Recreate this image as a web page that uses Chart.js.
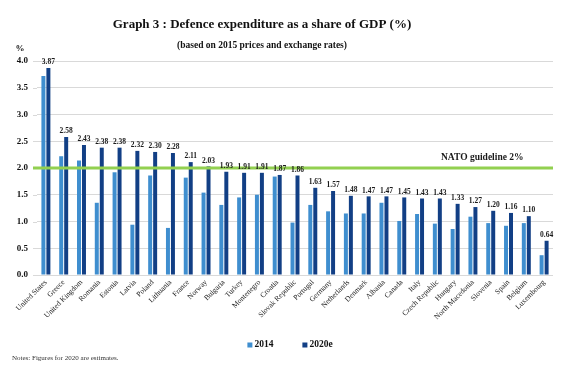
<!DOCTYPE html>
<html><head><meta charset="utf-8">
<script src="https://cdn.jsdelivr.net/npm/chart.js@4/dist/chart.umd.min.js"></script>
<style>html,body{margin:0;padding:0;background:#fff}#wrap{width:567px;height:368px;position:relative}canvas{display:block}</style>
</head><body><div id="wrap"><canvas id="c" width="567" height="368"></canvas></div>
<script>
const categories = ["United States","Greece","United Kingdom","Romania","Estonia","Latvia","Poland","Lithuania","France","Norway","Bulgaria","Turkey","Montenegro","Croatia","Slovak Republic","Portugal","Germany","Netherlands","Denmark","Albania","Canada","Italy","Czech Republic","Hungary","North Macedonia","Slovenia","Spain","Belgium","Luxembourg"];
const values2014 = [3.72,2.22,2.14,1.35,1.92,0.94,1.86,0.88,1.82,1.54,1.31,1.45,1.50,1.84,0.98,1.31,1.19,1.15,1.15,1.35,1.01,1.14,0.96,0.86,1.09,0.97,0.92,0.97,0.37];
const values2020 = [3.87,2.58,2.43,2.38,2.38,2.32,2.30,2.28,2.11,2.03,1.93,1.91,1.91,1.87,1.86,1.63,1.57,1.48,1.47,1.47,1.45,1.43,1.43,1.33,1.27,1.20,1.16,1.10,0.64];
const seriesNames = ["2014","2020e"];
const yTickValues = [0,0.5,1.0,1.5,2.0,2.5,3.0,3.5,4.0];
const natoGuideline = 2.0;
const titleText = "Graph 3 : Defence expenditure as a share of GDP (%)";
const subtitleText = "(based on 2015 prices and exchange rates)";
const natoLabel = "NATO guideline 2%";
const yUnit = "%";
const noteText = "Notes: Figures for 2020 are estimates.";

const SERIF = '"Liberation Serif", "DejaVu Serif", serif';
const colors = ["#3F8ECF", "#123F85"];

const overlay = {
  id: 'overlay',
  beforeDatasetsDraw(chart) {
    // extend gridlines slightly left like the reference
    const ctx = chart.ctx, y = chart.scales.y, area = chart.chartArea;
    ctx.save();
    ctx.strokeStyle = '#d9d9d9';
    ctx.lineWidth = 1;
    yTickValues.forEach(v => {
      const py = Math.round(y.getPixelForValue(v)) + 0.5;
      ctx.beginPath();
      ctx.moveTo(area.left - 4, py);
      ctx.lineTo(area.left, py);
      ctx.stroke();
    });
    ctx.restore();
  },
  afterDatasetsDraw(chart) {
    const ctx = chart.ctx;
    const y = chart.scales.y;
    const area = chart.chartArea;
    ctx.save();
    const gy = y.getPixelForValue(natoGuideline);
    ctx.strokeStyle = '#92D050';
    ctx.lineWidth = 3;
    ctx.beginPath();
    ctx.moveTo(area.left - 4, gy);
    ctx.lineTo(area.right, gy);
    ctx.stroke();
    ctx.fillStyle = '#1a1a1a';
    ctx.font = 'bold 9.5px ' + SERIF;
    ctx.textAlign = 'left';
    ctx.textBaseline = 'middle';
    ctx.fillText(natoLabel, 441, gy - 10);
    const meta = chart.getDatasetMeta(1);
    ctx.font = 'bold 7.5px ' + SERIF;
    ctx.textAlign = 'center';
    ctx.textBaseline = 'bottom';
    meta.data.forEach((bar, i) => {
      ctx.fillText(values2020[i].toFixed(2), bar.x, bar.y - 2);
    });
    ctx.restore();
  },
  afterDraw(chart) {
    const ctx = chart.ctx;
    ctx.save();
    ctx.fillStyle = '#111';
    ctx.textAlign = 'center';
    ctx.textBaseline = 'middle';
    ctx.font = 'bold 13px ' + SERIF;
    ctx.fillText(titleText, 262, 25);
    ctx.font = 'bold 9.5px ' + SERIF;
    ctx.fillText(subtitleText, 262, 46);
    ctx.font = 'bold 9px ' + SERIF;
    ctx.fillText(yUnit, 20, 49);
    ctx.textAlign = 'left';
    ctx.font = '7px ' + SERIF;
    ctx.fillStyle = '#333';
    ctx.fillText(noteText, 12, 358);
    ctx.font = 'bold 9.5px ' + SERIF;
    const box = 5, gap = 2, spacing = 29;
    const w0 = ctx.measureText(seriesNames[0]).width, w1 = ctx.measureText(seriesNames[1]).width;
    const total = box + gap + w0 + spacing + box + gap + w1;
    let lx = 290 - total / 2;
    const ly = 345;
    seriesNames.forEach((n, i) => {
      ctx.fillStyle = colors[i];
      ctx.fillRect(lx, ly - box / 2, box, box);
      lx += box + gap;
      ctx.fillStyle = '#111';
      ctx.fillText(n, lx, ly);
      lx += (i === 0 ? w0 : w1) + spacing;
    });
    ctx.restore();
  }
};

new Chart(document.getElementById('c'), {
  type: 'bar',
  data: {
    labels: categories,
    datasets: [
      { label: seriesNames[0], data: values2014, backgroundColor: colors[0], barPercentage: 0.8, categoryPercentage: 0.56 },
      { label: seriesNames[1], data: values2020, backgroundColor: colors[1], barPercentage: 0.8, categoryPercentage: 0.56 }
    ]
  },
  options: {
    responsive: false,
    animation: false,
    devicePixelRatio: 1,
    layout: { padding: { top: 61, left: 0, right: 14, bottom: 40 } },
    plugins: { legend: { display: false }, title: { display: false }, tooltip: { enabled: false } },
    scales: {
      x: {
        grid: { display: false, drawTicks: false },
        border: { display: false },
        ticks: { autoSkip: false, minRotation: 45, maxRotation: 45, padding: 3, color: '#222', font: { family: SERIF, size: 7.5 } },
        afterFit(s) { s.height = 53; }
      },
      y: {
        min: 0, max: 4,
        afterBuildTicks(s) { s.ticks = yTickValues.map(v => ({ value: v })); },
        grid: { color: '#d9d9d9', lineWidth: 1, drawTicks: false },
        border: { display: false },
        ticks: { padding: 9, color: '#111', font: { family: SERIF, size: 9, weight: 'bold' }, callback: v => Number(v).toFixed(1) },
        afterFit(s) { s.width = 37; }
      }
    }
  },
  plugins: [overlay]
});
</script>
</body></html>
